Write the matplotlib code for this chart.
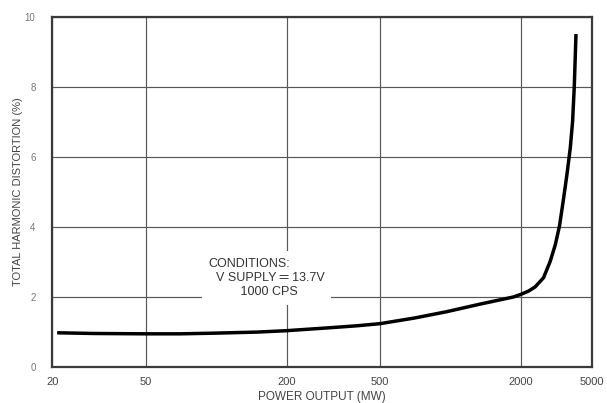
import matplotlib.pyplot as plt

# Curve (log x axis)
power_mw = [21, 30, 50, 70, 100, 150, 200, 300, 400, 500, 700, 960, 1340,
            1850, 2000, 2150, 2294, 2490, 2659, 2794, 2913, 3031, 3134,
            3237, 3311, 3367, 3424]
thd_pct = [0.98, 0.96, 0.95, 0.95, 0.97, 1.0, 1.04, 1.12, 1.18, 1.24, 1.40,
           1.58, 1.80, 2.0, 2.08, 2.17, 2.29, 2.55, 3.02, 3.49, 4.03, 4.81,
           5.5, 6.25, 7.0, 8.0, 9.5]

x_ticks = [20, 50, 200, 500, 2000, 4000]
x_tick_labels = ["20", "50", "200", "500", "2000", "5000"]
y_ticks = [0, 2, 4, 6, 8, 10]
y_tick_labels = ["0", "2", "4", "6", "8", "10"]

font = ['Liberation Sans', 'DejaVu Sans']
ink = '#3a3a3a'

fig = plt.figure(figsize=(6.07, 4.03), dpi=100)
ax = fig.add_axes([0.086, 0.089, 0.889, 0.870])

ax.set_xscale('log')
ax.set_xlim(20, 4000)
ax.set_ylim(0, 10)

ax.set_xticks(x_ticks)
ax.set_xticklabels(x_tick_labels, family=font, fontsize=8, color='#444444')
ax.set_yticks(y_ticks)
ax.set_yticklabels(y_tick_labels, family=font, fontsize=7, color='#777777')
ax.minorticks_off()
ax.tick_params(length=0, pad=7)
ax.tick_params(axis='y', pad=12)

ax.grid(True, color='#575757', linewidth=0.85, zorder=1)
ax.set_axisbelow(True)
for s in ax.spines.values():
    s.set_color(ink)
    s.set_linewidth(1.6)

ax.plot(power_mw, thd_pct, color='black', linewidth=2.5, solid_capstyle='butt',
        solid_joinstyle='round', zorder=4)

# Conditions note; white box breaks the grid lines like the original
ax.text(93, 2.55, "CONDITIONS:\n  V SUPPLY \u2550 13.7V\n         1000 CPS",
        family=font, fontsize=9, color='#333333', ha='left', va='center',
        linespacing=1.2, zorder=3,
        bbox=dict(facecolor='white', edgecolor='none', pad=5))

ax.set_xlabel("POWER OUTPUT (MW)", family=font, fontsize=8.5, color='#444444', labelpad=3)
ax.set_ylabel("TOTAL HARMONIC DISTORTION (%)", family=font, fontsize=8, color='#444444')
ax.yaxis.set_label_coords(-0.055, 0.5)

fig.savefig("out.png", dpi=100)
